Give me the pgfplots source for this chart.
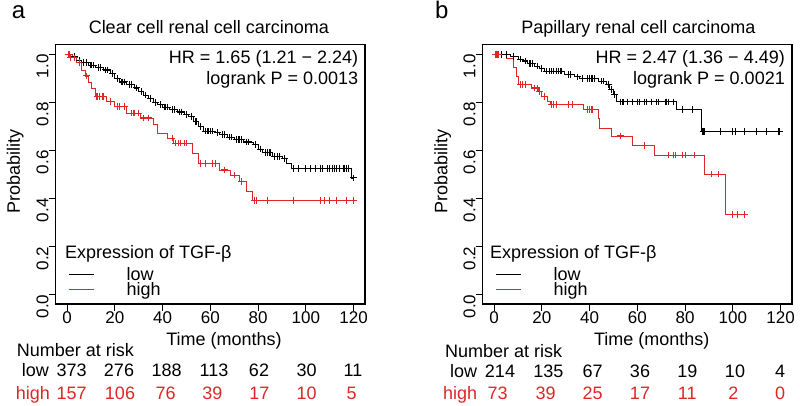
\documentclass[border=0pt]{standalone}
\usepackage{pgfplots}
\pgfplotsset{compat=1.18}
\usepackage{fontspec}
\setmainfont{Liberation Sans}
\definecolor{kmred}{RGB}{222,38,38}
\newcommand{\fA}{\fontsize{18}{21}\selectfont}
\newcommand{\fT}{\fontsize{17}{20}\selectfont}
\pgfplotsset{
  kmaxis/.style={
    scale only axis, width=309.3pt, height=259.3pt, anchor=south west,
    xmin=-4.8, xmax=124.8, ymin=-0.04, ymax=1.04,
    xtick={0,20,40,60,80,100,120}, ytick={0,0.2,0.4,0.6,0.8,1.0},
    tick align=outside, major tick length=7pt, tick pos=left,
    axis line style={line width=1.1pt}, tick style={line width=0.8pt, black},
    /pgf/number format/assume math mode=true,
    ticklabel style={font=\fT},
    xticklabel style={inner sep=0pt},
    yticklabel style={rotate=90, anchor=south, inner sep=0pt, xshift=-12pt,
      /pgf/number format/.cd, fixed, fixed zerofill, precision=1},
    clip=false,
    legend style={draw=none, fill=none, font=\fA, inner sep=0pt,
      nodes={inner sep=0.5pt, text height=13pt, text depth=0pt}, row sep=1pt},
    legend cell align=left,
    legend image code/.code={\draw[#1] (0pt,0pt) -- (25pt,0pt);},
  },
  kmline/.style={const plot, line width=0.8pt, mark=none},
  kmmark/.style={only marks, mark=+, mark size=3.3pt, mark options={line width=1.1pt}, forget plot},
}
\begin{document}
\begin{tikzpicture}[x=1pt,y=1pt]
\path[use as bounding box] (0,0) rectangle (800,406);

% ---------------- Panel a ----------------
\begin{axis}[kmaxis, at={(55.7pt,102pt)},
  legend style={at={(axis cs:0.4,0.115)}, anchor=north west}]
\addplot[kmline, black] coordinates {
(0,1.0)(2,0.99)(4,0.975)(6,0.965)(9,0.955)(12,0.945)(15,0.935)(18,0.92)(20,0.9)(22,0.885)(25,0.875)(28,0.86)(30,0.845)(32,0.83)(34,0.815)(36,0.8)(38,0.79)(40,0.78)(43,0.77)(46,0.76)(49,0.75)(51,0.74)(53,0.72)(55,0.70)(57,0.68)(62,0.675)(64,0.665)(67,0.655)(70,0.645)(74,0.635)(78,0.625)(80,0.605)(82,0.59)(86,0.575)(90,0.565)(92,0.545)(94,0.525)(119,0.485)(120,0.485)};
\addlegendentry{\hspace*{32pt}low}
\addplot[kmline, kmred] coordinates {
(0,1.0)(2,0.985)(4,0.965)(6,0.935)(7.5,0.91)(9,0.885)(10.3,0.86)(11.7,0.825)(16.6,0.804)(20,0.783)(25,0.755)(30.6,0.735)(36,0.707)(38,0.672)(41.9,0.651)(44.7,0.63)(52.4,0.588)(55.2,0.546)(64,0.518)(68.6,0.497)(72,0.469)(74.9,0.427)(77.7,0.392)(120,0.392)};
\addlegendentry{\hspace*{32pt}high}
\addplot[kmmark, black] coordinates {
(1,1.0)(3,.99)(5,.975)(7,.965)(8,.965)(10,.955)(11,.955)(13,.945)(14,.945)(16,.935)(17,.935)(19,.92)(21,.9)(23,.885)(24,.885)(26,.875)(27,.875)(29,.86)(31,.845)(33,.83)(35,.815)(37,.8)(39,.79)(41,.78)(42,.78)(44,.77)(45,.77)(47,.76)(48,.76)(50,.75)(52,.74)(54,.72)(56,.70)(58,.68)(59,.68)(60,.68)(61,.68)(63,.675)(65,.665)(66,.665)(68,.655)(69,.655)(71,.645)(72,.645)(73,.645)(75,.635)(76,.635)(79,.625)(81,.605)(83,.59)(84,.59)(85,.59)(87,.575)(88,.575)(89,.575)(91,.565)(95,.525)(97,.525)(100,.525)(102,.525)(104,.525)(106,.525)(107,.525)(109,.525)(110,.525)(111,.525)(112,.525)(113,.525)(114,.525)(116,.525)(117,.525)(118,.525)(120,.485)};
\addplot[kmmark, kmred] coordinates {
(0.5,1.0)(1,1.0)(1.5,0.985)(3,0.985)(5,0.965)(8,0.91)(12.5,0.825)(13.5,0.825)(15,0.825)(18,0.804)(21,0.783)(22,0.783)(24,0.783)(27,0.755)(28,0.755)(30,0.755)(32,0.735)(34,0.735)(44,0.651)(45.5,0.63)(46.5,0.63)(47.5,0.63)(49,0.63)(50,0.63)(56,0.546)(58,0.546)(61,0.546)(62,0.546)(66,0.518)(70,0.497)(73,0.469)(78.5,0.392)(79.5,0.392)(84,0.392)(95,0.392)(106,0.392)(108,0.392)(110,0.392)(113,0.392)(117,0.392)(120,0.392)};
\end{axis}

% ---------------- Panel b ----------------
\begin{axis}[kmaxis, at={(482.7pt,102pt)},
  legend style={at={(axis cs:0.4,0.115)}, anchor=north west}]
\addplot[kmline, black] coordinates {
(0,1.0)(7,0.99)(10,0.98)(12,0.972)(14,0.962)(17,0.951)(19,0.94)(21,0.93)(29.6,0.916)(33.8,0.906)(35.9,0.898)(43.5,0.888)(47,0.874)(48.4,0.853)(49.8,0.832)(51.2,0.802)(76.2,0.769)(87,0.678)(120,0.678)};
\addlegendentry{\hspace*{32pt}low}
\addplot[kmline, kmred] coordinates {
(0,1.0)(5.3,0.983)(8.1,0.944)(9.5,0.909)(10.2,0.874)(15.7,0.86)(18.6,0.846)(20,0.825)(22.1,0.804)(23.4,0.79)(37.3,0.769)(43.5,0.735)(44.2,0.693)(49.1,0.66)(58.1,0.62)(67.2,0.58)(88,0.501)(97,0.332)(105,0.332)};
\addlegendentry{\hspace*{32pt}high}
\addplot[kmmark, black] coordinates {
(1,1)(3,1)(5,1)(8,.99)(11,.98)(13,.972)(15,.962)(16,.962)(18,.951)(20,.94)(22,.93)(23,.93)(24,.93)(25,.93)(26,.93)(27,.93)(28,.93)(31,.916)(32,.916)(35,.906)(37,.898)(39,.898)(40,.898)(41,.898)(42,.898)(45,.888)(46,.888)(48,.874)(49,.853)(50.5,.832)(53,.802)(54,.802)(56,.802)(58,.802)(60,.802)(61,.802)(63,.802)(64,.802)(66,.802)(68,.802)(69,.802)(72,.802)(73,.802)(75,.802)(79,.769)(83,.769)(87.5,.678)(88,.678)(95,.678)(100,.678)(101,.678)(105,.678)(110,.678)(114,.678)(119,.678)(119.5,.678)};
\addplot[kmmark, kmred] coordinates {
(0.5,1)(1,1)(1.5,1)(2,1)(11,.874)(12,.874)(13,.874)(17,.86)(18,.86)(19,.846)(21,.825)(24,.79)(25,.79)(26,.79)(31,.79)(33,.79)(39,.769)(40,.769)(41,.769)(53,.66)(63,.62)(73,.58)(75,.58)(76,.58)(79,.58)(80,.58)(84,.58)(91,.501)(94,.501)(100,.332)(102,.332)(105,.332)};
\end{axis}

% ---------------- texts panel a ----------------
\node[anchor=base west, font=\fontsize{24}{28}\selectfont, inner sep=0pt] at (11.7,387) {a};
\node[anchor=base, font=\fA, inner sep=0pt] at (208.8,372.7) {Clear cell renal cell carcinoma};
\node[anchor=base east, font=\fA, inner sep=0pt] at (358.3,342) {HR = 1.65 (1.21 − 2.24)};
\node[anchor=base east, font=\fA, inner sep=0pt] at (358.3,321) {logrank P = 0.0013};
\node[anchor=base west, font=\fA, inner sep=0pt] at (65,147.7) {Expression of TGF-β};
\node[anchor=base, rotate=90, font=\fA, inner sep=0pt] at (20,234.3) {Probability};
\node[anchor=base, font=\fA, inner sep=0pt] at (224,60.3) {Time (months)};
\node[anchor=base west, font=\fA, inner sep=0pt] at (16.7,49.3) {Number at risk};
\begin{scope}[every node/.style={anchor=base, font=\fA, inner sep=0pt}]
\node[anchor=base east] at (49,29.3) {low};
\node at (71.7,29.3) {373}; \node at (119,29.3) {276}; \node at (166.7,29.3) {188};
\node at (214,29.3) {113}; \node at (259,29.3) {62}; \node at (306.7,29.3) {30}; \node at (353,29.3) {11};
\node[anchor=base east, text=kmred] at (50,6) {high};
\node[text=kmred] at (71.7,6) {157}; \node[text=kmred] at (120,6) {106}; \node[text=kmred] at (165.7,6) {76};
\node[text=kmred] at (212.3,6) {39}; \node[text=kmred] at (259.3,6) {17}; \node[text=kmred] at (306.7,6) {10}; \node[text=kmred] at (351.7,6) {5};
\end{scope}

% ---------------- texts panel b ----------------
\node[anchor=base west, font=\fontsize{24}{28}\selectfont, inner sep=0pt] at (435,387) {b};
\node[anchor=base, font=\fA, inner sep=0pt] at (638.3,372.7) {Papillary renal cell carcinoma};
\node[anchor=base east, font=\fA, inner sep=0pt] at (785,342) {HR = 2.47 (1.36 − 4.49)};
\node[anchor=base east, font=\fA, inner sep=0pt] at (785,321) {logrank P = 0.0021};
\node[anchor=base west, font=\fA, inner sep=0pt] at (490,147.7) {Expression of TGF-β};
\node[anchor=base, rotate=90, font=\fA, inner sep=0pt] at (447.3,234.3) {Probability};
\node[anchor=base, font=\fA, inner sep=0pt] at (651.7,60.3) {Time (months)};
\node[anchor=base west, font=\fA, inner sep=0pt] at (445,48.5) {Number at risk};
\begin{scope}[every node/.style={anchor=base, font=\fA, inner sep=0pt}]
\node[anchor=base east] at (477.3,28.7) {low};
\node at (500,28.7) {214}; \node at (548.3,28.7) {135}; \node at (592.7,28.7) {67};
\node at (640,28.7) {36}; \node at (687.3,28.7) {19}; \node at (735,28.7) {10}; \node at (780,28.7) {4};
\node[anchor=base east, text=kmred] at (477.3,6.5) {high};
\node[text=kmred] at (497.7,6.5) {73}; \node[text=kmred] at (545.7,6.5) {39}; \node[text=kmred] at (592.7,6.5) {25};
\node[text=kmred] at (640,6.5) {17}; \node[text=kmred] at (687.3,6.5) {11}; \node[text=kmred] at (733.3,6.5) {2}; \node[text=kmred] at (780,6.5) {0};
\end{scope}
\end{tikzpicture}
\end{document}
